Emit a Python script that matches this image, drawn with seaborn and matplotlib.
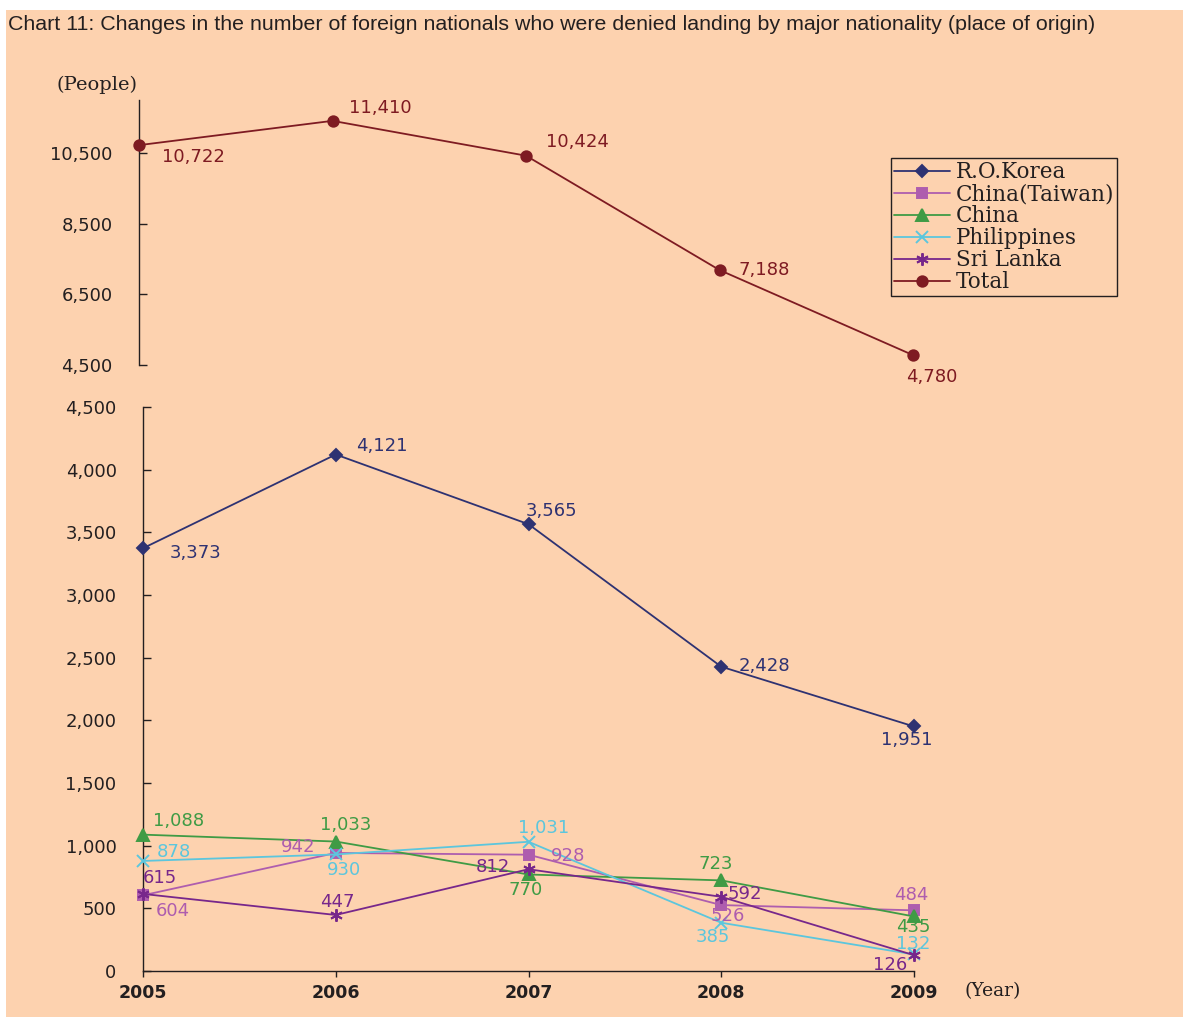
import matplotlib
matplotlib.use("Agg")
import matplotlib.pyplot as plt
from matplotlib.lines import Line2D
from matplotlib.patches import Rectangle
import seaborn as sns

# ---- data -------------------------------------------------------------
years = [2005, 2006, 2007, 2008, 2009]
korea = [3373, 4121, 3565, 2428, 1951]
taiwan = [604, 942, 928, 526, 484]
china = [1088, 1033, 770, 723, 435]
philippines = [878, 930, 1031, 385, 132]
sri_lanka = [615, 447, 812, 592, 126]
total = [10722, 11410, 10424, 7188, 4780]

series_names = ["R.O.Korea", "China(Taiwan)", "China", "Philippines", "Sri Lanka", "Total"]
top_ticks = [4500, 6500, 8500, 10500]
bottom_ticks = [0, 500, 1000, 1500, 2000, 2500, 3000, 3500, 4000, 4500]

# ---- styling ----------------------------------------------------------
sns.set_style("ticks")
plt.rcParams["font.family"] = ["DejaVu Sans"]

BG = "#FDD2AF"
INK = "#231F20"
colors = {
    "R.O.Korea": "#2E3272",
    "China(Taiwan)": "#AE5DAE",
    "China": "#3F9B45",
    "Philippines": "#5CC6DD",
    "Sri Lanka": "#77278B",
    "Total": "#7E1B22",
}
markers = {
    "R.O.Korea": "D",
    "China(Taiwan)": "s",
    "China": "^",
    "Philippines": "x",
    "Sri Lanka": (6, 2, 0),
    "Total": "o",
}
msizes = {
    "R.O.Korea": 6.5,
    "China(Taiwan)": 7.5,
    "China": 8.5,
    "Philippines": 8,
    "Sri Lanka": 9,
    "Total": 7.5,
}

W, H = 1183, 1017
fig = plt.figure(figsize=(W / 100, H / 100), dpi=100, facecolor="white")
fig.patches.append(Rectangle((6 / W, 0), 1 - 6 / W, 1 - 10 / H,
                             transform=fig.transFigure, facecolor=BG,
                             edgecolor="none", zorder=-10))


def px_axes(x0, y0, x1, y1):
    """Axes placed by pixel box (left, top, right, bottom)."""
    return fig.add_axes([x0 / W, 1 - y1 / H, (x1 - x0) / W, (y1 - y0) / H])


ax_top = px_axes(139, 100, 913, 365)
ax_bot = px_axes(143, 407, 914, 971)
for ax in (ax_top, ax_bot):
    ax.set_facecolor("none")
    ax.set_xlim(2005, 2009)


def draw(ax, name, vals):
    c = colors[name]
    sns.lineplot(x=years, y=vals, ax=ax, color=c, marker=markers[name],
                 markersize=msizes[name], markeredgecolor=c,
                 markerfacecolor=c, markeredgewidth=1.4, linewidth=1.3,
                 clip_on=False, zorder=3)


# ---- upper panel: total ----------------------------------------------
draw(ax_top, "Total", total)
ax_top.set_ylim(4500, 12000)
ax_top.set_yticks(top_ticks)
ax_top.set_yticklabels([f"{v:,}" for v in top_ticks])
ax_top.set_xticks([])
for s in ("top", "right", "bottom"):
    ax_top.spines[s].set_visible(False)

# ---- lower panel: nationalities --------------------------------------
draw(ax_bot, "R.O.Korea", korea)
draw(ax_bot, "China(Taiwan)", taiwan)
draw(ax_bot, "China", china)
draw(ax_bot, "Philippines", philippines)
draw(ax_bot, "Sri Lanka", sri_lanka)
ax_bot.set_ylim(0, 4500)
ax_bot.set_yticks(bottom_ticks)
ax_bot.set_yticklabels([f"{v:,}" for v in bottom_ticks])
ax_bot.set_xticks(years)
ax_bot.set_xticklabels([str(y) for y in years], fontweight="bold")
for s in ("top", "right"):
    ax_bot.spines[s].set_visible(False)

for ax in (ax_top, ax_bot):
    for s in ax.spines.values():
        s.set_color(INK)
        s.set_linewidth(1.0)
    ax.tick_params(axis="y", direction="in", length=6, width=1.0,
                   colors=INK, labelsize=13, pad=19)
    ax.tick_params(axis="x", direction="out", length=4, width=1.0,
                   colors=INK, labelsize=12.5, pad=5)
    ax.set_xlabel("")
    ax.set_ylabel("")

# ---- value labels (pixel offsets from each point) ---------------------
offsets = {
    "Total": [(54, -12), (48, 13), (51, 14), (45, 0), (19, -22)],
    "R.O.Korea": [(53, -5), (46, 9), (23, 13), (43, 1), (-7, -14)],
    "China": [(36, 14), (10, 17), (-3, -16), (-5, 16), (-1, -11)],
    "Philippines": [(31, 9), (8, -16), (15, 14), (-8, -14), (-1, 10)],
    "China(Taiwan)": [(30, -16), (-38, 6), (40, -1), (6, -11), (-3, 15)],
    "Sri Lanka": [(17, 16), (2, 13), (-36, 2), (24, 3), (-24, -10)],
}
values = {
    "Total": total, "R.O.Korea": korea, "China": china,
    "Philippines": philippines, "China(Taiwan)": taiwan, "Sri Lanka": sri_lanka,
}
for name, vals in values.items():
    ax = ax_top if name == "Total" else ax_bot
    for yr, v, (dx, dy) in zip(years, vals, offsets[name]):
        ax.annotate(f"{v:,}", (yr, v), xytext=(dx, dy),
                    textcoords="offset pixels", ha="center", va="center",
                    color=colors[name], fontsize=13, annotation_clip=False,
                    zorder=4)

# ---- texts ------------------------------------------------------------
fig.text(8 / W, 1 - 24 / H,
         "Chart 11: Changes in the number of foreign nationals who were "
         "denied landing by major nationality (place of origin)",
         ha="left", va="center", fontsize=15.4, color=INK,
         family="Liberation Sans")
fig.text(97 / W, 1 - 85 / H, "(People)", ha="center", va="center",
         fontsize=14, color=INK, family="DejaVu Serif")
fig.text(993 / W, 1 - 991 / H, "(Year)", ha="center", va="center",
         fontsize=13.5, color=INK, family="DejaVu Serif")

# ---- legend -----------------------------------------------------------
handles = [Line2D([0], [0], color=colors[n], marker=markers[n],
                  markersize=msizes[n], markerfacecolor=colors[n],
                  markeredgecolor=colors[n], markeredgewidth=1.4,
                  linewidth=1.3) for n in series_names]
leg = fig.legend(handles, series_names, loc="upper left",
                 bbox_to_anchor=(891 / W, 1 - 158 / H),
                 prop={"family": "DejaVu Serif", "size": 15.5},
                 frameon=True, fancybox=False, facecolor=BG, edgecolor=INK,
                 framealpha=1, handlelength=2.6, handletextpad=0.25,
                 labelspacing=0.0, borderpad=0.15, borderaxespad=0)
leg.get_frame().set_linewidth(1.0)
for t in leg.get_texts():
    t.set_color(INK)

fig.savefig("out.png", dpi=100, facecolor="white")
